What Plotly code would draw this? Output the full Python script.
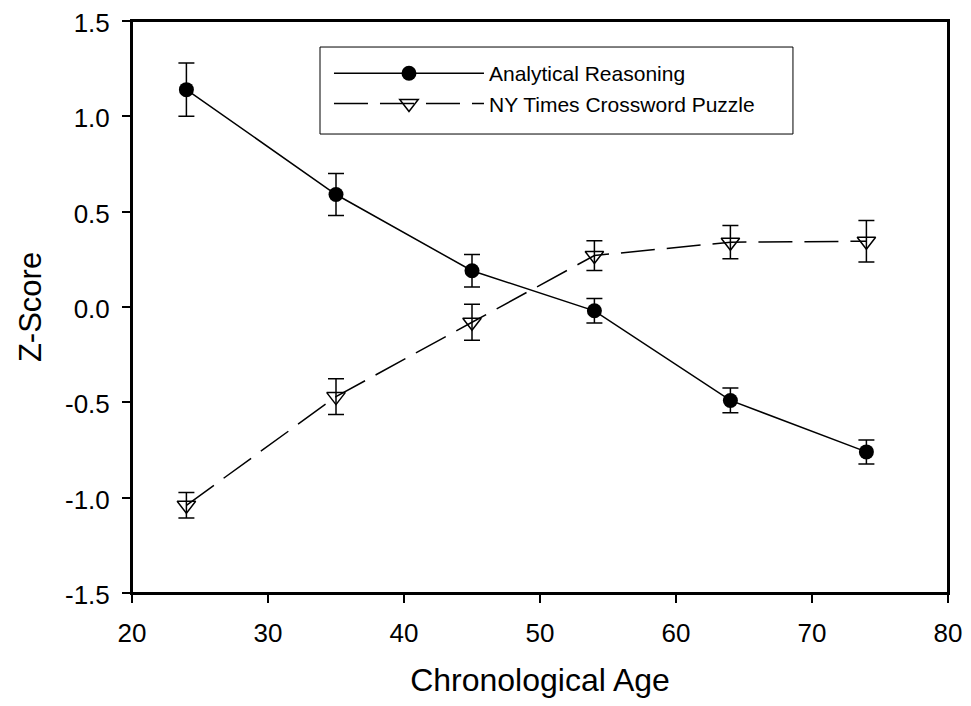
import plotly.graph_objects as go

age = [24, 35, 45, 54, 64, 74]
analytical = [1.14, 0.59, 0.19, -0.02, -0.49, -0.76]
analytical_err = [0.14, 0.11, 0.085, 0.064, 0.065, 0.063]
crossword = [-1.04, -0.47, -0.08, 0.27, 0.34, 0.345]
crossword_err = [0.067, 0.094, 0.094, 0.078, 0.087, 0.109]

x_ticks = [20, 30, 40, 50, 60, 70, 80]
y_ticks = [-1.5, -1.0, -0.5, 0.0, 0.5, 1.0, 1.5]

FONT = "Liberation Sans, Arial, sans-serif"

fig = go.Figure()
fig.add_trace(go.Scatter(
    x=age, y=analytical, name="Analytical Reasoning", mode="lines+markers",
    line=dict(color="black", width=1.5),
    marker=dict(symbol="circle", size=15, color="black"),
    error_y=dict(type="data", array=analytical_err, visible=True,
                 color="black", thickness=1.5, width=8),
    cliponaxis=False,
))
fig.add_trace(go.Scatter(
    x=age, y=crossword, name="NY Times Crossword Puzzle", mode="lines+markers",
    line=dict(color="black", width=1.5, dash="34px,12px"),
    marker=dict(symbol="triangle-down-open", size=16, color="black",
                line=dict(color="black", width=1.5)),
    error_y=dict(type="data", array=crossword_err, visible=True,
                 color="black", thickness=1.5, width=8),
    cliponaxis=False,
))

axis_common = dict(
    showline=True, linecolor="black", linewidth=2, mirror=True,
    ticks="outside", ticklen=8, tickwidth=1.5, tickcolor="black",
    showgrid=False, zeroline=False, automargin=False,
    ticklabeloverflow="allow",
    tickfont=dict(family=FONT, size=26, color="black"),
)

# legend frame (decoration)
fig.add_shape(type="rect", xref="paper", yref="paper",
              x0=0.2304, x1=0.810, y0=0.8024, y1=0.9545,
              line=dict(color="black", width=1), fillcolor="white",
              layer="below")
# plot frame (decoration)
fig.add_shape(type="rect", xref="paper", yref="paper",
              x0=0, x1=1, y0=0, y1=1,
              line=dict(color="black", width=2), fillcolor="rgba(0,0,0,0)",
              layer="above")

fig.update_layout(
    template="none",
    width=955, height=690,
    margin=dict(l=124, r=15, t=13, b=105, pad=0),
    paper_bgcolor="white", plot_bgcolor="white",
    font=dict(family=FONT, color="black"),
    xaxis=dict(range=[20, 80], tickvals=x_ticks,
               ticktext=[str(v) for v in x_ticks],
               ticklabelstandoff=8,
               title=dict(text="Chronological Age",
                          font=dict(family=FONT, size=32), standoff=30),
               **axis_common),
    yaxis=dict(range=[-1.5, 1.5], tickvals=y_ticks,
               ticktext=[f"{v:.1f}" for v in y_ticks],
               ticklabelstandoff=7, ticklabelshift=2,
               title=dict(text="Z-Score",
                          font=dict(family=FONT, size=31), standoff=14),
               **axis_common),
    legend=dict(x=0.2414, y=0.944, xanchor="left", yanchor="top",
                borderwidth=0, bgcolor="rgba(0,0,0,0)",
                font=dict(family=FONT, size=21, color="black"),
                itemwidth=150),
    showlegend=True,
)

fig.write_html("out.html")
